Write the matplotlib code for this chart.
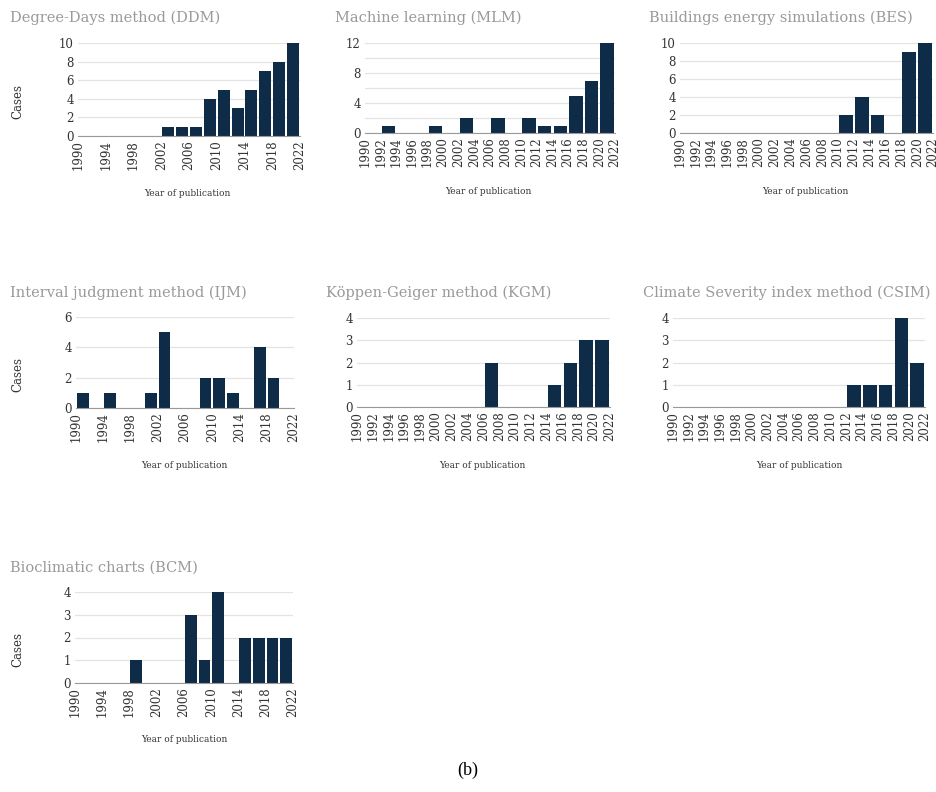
import matplotlib
matplotlib.use("Agg")
import matplotlib.pyplot as plt
from matplotlib.ticker import MultipleLocator

# bins of two years, from 1990 to 2022
bin_start = list(range(1990, 2022, 2))

ddm = [0, 0, 0, 0, 0, 0, 1, 1, 1, 4, 5, 3, 5, 7, 8, 10]
mlm = [0, 1, 0, 0, 1, 0, 2, 0, 2, 0, 2, 1, 1, 5, 7, 12]
bes = [0, 0, 0, 0, 0, 0, 0, 0, 0, 0, 2, 4, 2, 0, 9, 10]
ijm = [1, 0, 1, 0, 0, 1, 5, 0, 0, 2, 2, 1, 0, 4, 2, 0]
kgm = [0, 0, 0, 0, 0, 0, 0, 0, 2, 0, 0, 0, 1, 2, 3, 3]
csim = [0, 0, 0, 0, 0, 0, 0, 0, 0, 0, 0, 1, 1, 1, 4, 2]
bcm = [0, 0, 0, 0, 1, 0, 0, 0, 3, 1, 4, 0, 2, 2, 2, 2]

titles = ["Degree-Days method (DDM)", "Machine learning (MLM)",
          "Buildings energy simulations (BES)", "Interval judgment method (IJM)",
          "Köppen-Geiger method (KGM)", "Climate Severity index method (CSIM)",
          "Bioclimatic charts (BCM)"]

W, H = 936, 792
bar_col = "#0e2c47"
serif = ["DejaVu Serif"]

fig = plt.figure(figsize=(W / 100, H / 100), dpi=100)
fig.patch.set_facecolor("white")

# layout: axes box (x0, y0, x1, y1) in pixels, title pos, xlabel pos, cases label?, tick step, ymax, ymajor, yminor
panels = [
    (ddm, (78, 43, 300, 136), (10, 18), (187, 193), True, 4, 10, 2, 2),
    (mlm, (365, 43, 615, 133), (335, 18), (488, 192), False, 2, 12, 4, 2),
    (bes, (680, 43, 933, 133), (649, 18), (805, 192), False, 2, 10, 2, 2),
    (ijm, (76, 317, 294, 408), (10, 293), (184, 465), True, 4, 6, 2, 2),
    (kgm, (357, 318, 610, 407), (326, 293), (482, 465), False, 2, 4, 1, 1),
    (csim, (673, 318, 925, 407), (643, 293), (799, 465), False, 2, 4, 1, 1),
    (bcm, (75, 592, 293, 683), (10, 568), (184, 740), True, 4, 4, 1, 1),
]

for i, (vals, box, tpos, xlpos, cases, step, ymax, ymaj, ymin) in enumerate(panels):
    x0, y0, x1, y1 = box
    ax = fig.add_axes([x0 / W, 1 - y1 / H, (x1 - x0) / W, (y1 - y0) / H])
    ax.bar([b + 1 for b in bin_start], vals, width=1.72, color=bar_col, zorder=3)
    ax.set_xlim(1990, 2022)
    ax.set_ylim(0, ymax)
    ax.set_xticks(list(range(1990, 2023, step)))
    ax.set_xticklabels([str(y) for y in range(1990, 2023, step)], rotation=90,
                       fontsize=8.5, color="#333333", family=serif)
    ax.yaxis.set_major_locator(MultipleLocator(ymaj))
    ax.yaxis.set_minor_locator(MultipleLocator(ymin))
    for lab in ax.get_yticklabels():
        lab.set_family(serif)
        lab.set_fontsize(8.5)
        lab.set_color("#333333")
    ax.tick_params(length=0, pad=3, which="both")
    ax.grid(axis="y", which="both", color="#e3e3e3", linewidth=0.9, zorder=0)
    for s in ["top", "right", "left"]:
        ax.spines[s].set_visible(False)
    ax.spines["bottom"].set_color("#999999")
    ax.spines["bottom"].set_zorder(4)

    fig.text(tpos[0] / W, 1 - tpos[1] / H, titles[i], fontsize=10.5,
             color="#9a9a9a", family=serif, ha="left", va="center")
    fig.text(xlpos[0] / W, 1 - xlpos[1] / H, "Year of publication", fontsize=6.5,
             color="#333333", family=serif, ha="center", va="center")
    if cases:
        fig.text(18 / W, 1 - ((y0 + y1) / 2 + 12) / H, "Cases", fontsize=8.5,
                 color="#333333", family=serif, rotation=90, ha="center", va="center")

fig.text(468 / W, 1 - 770 / H, "(b)", fontsize=13, family=["Liberation Serif"],
         ha="center", va="center", color="black")

fig.savefig("out.png", dpi=100)
